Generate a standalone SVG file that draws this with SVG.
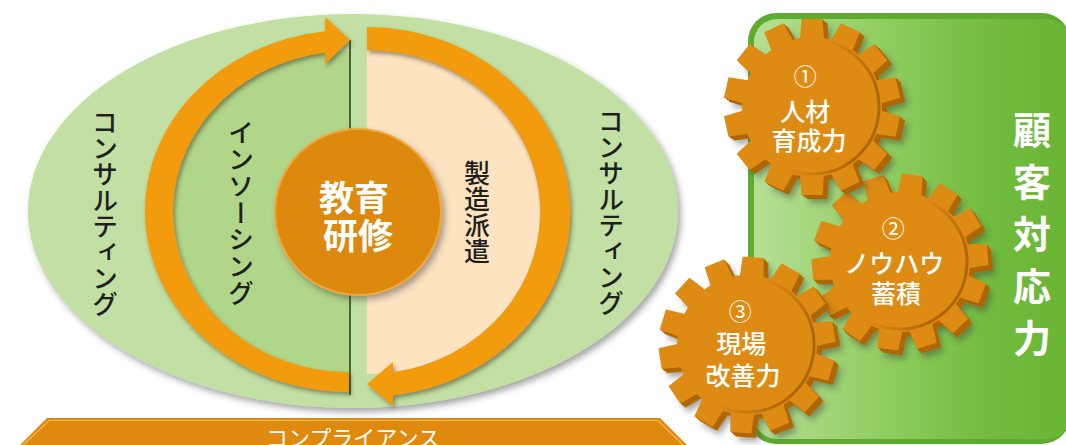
<svg xmlns="http://www.w3.org/2000/svg" width="1066" height="445" viewBox="0 0 1066 445">
  <defs>
    <style>
      .jp { font-family: "Noto Sans CJK JP", "Noto Sans", sans-serif; }
      .vert { writing-mode: vertical-rl; text-anchor: middle; font-size: 26px; fill: #1f1f1f; font-weight: 500; }
      .gearText { font-size: 25px; fill: #ffffff; text-anchor: middle; dominant-baseline: central; font-weight: 500; }
      .num { font-size: 23px; font-weight: 400; }
      .face { fill: #de8b13; }
      .side { fill: #ad6705; }
      .arrow { fill: #f29b0c; }
    </style>
    <filter id="shadow" x="-10%" y="-10%" width="130%" height="130%">
      <feDropShadow dx="3" dy="4" stdDeviation="3" flood-color="#3a3a3a" flood-opacity="0.45"/>
    </filter>
    <filter id="arrowShadow" x="-10%" y="-10%" width="130%" height="130%">
      <feDropShadow dx="2" dy="3" stdDeviation="2" flood-color="#3d3020" flood-opacity="0.5"/>
    </filter>
    <linearGradient id="panelFill" x1="0" y1="0" x2="1" y2="0">
      <stop offset="0" stop-color="#b6df95"/>
      <stop offset="0.45" stop-color="#8ccb5c"/>
      <stop offset="0.75" stop-color="#72bb3e"/>
      <stop offset="1" stop-color="#69b535"/>
    </linearGradient>
    <linearGradient id="ringShade" x1="0" y1="0" x2="1" y2="0.3">
      <stop offset="0" stop-color="#a8620a" stop-opacity="0"/>
      <stop offset="0.55" stop-color="#a8620a" stop-opacity="0"/>
      <stop offset="1" stop-color="#a8620a" stop-opacity="0.9"/>
    </linearGradient>
    <!-- one gear tooth pointing up, and a 14-tooth gear built from it -->
    <polygon id="tooth" points="-12.5,-60 -10.5,-88 10.5,-88 12.5,-60"/>
    <g id="gearShape">
      <circle r="70"/>
      <use href="#tooth"/>
      <use href="#tooth" transform="rotate(25.714)"/>
      <use href="#tooth" transform="rotate(51.429)"/>
      <use href="#tooth" transform="rotate(77.143)"/>
      <use href="#tooth" transform="rotate(102.857)"/>
      <use href="#tooth" transform="rotate(128.571)"/>
      <use href="#tooth" transform="rotate(154.286)"/>
      <use href="#tooth" transform="rotate(180)"/>
      <use href="#tooth" transform="rotate(205.714)"/>
      <use href="#tooth" transform="rotate(231.429)"/>
      <use href="#tooth" transform="rotate(257.143)"/>
      <use href="#tooth" transform="rotate(282.857)"/>
      <use href="#tooth" transform="rotate(308.571)"/>
      <use href="#tooth" transform="rotate(334.286)"/>
    </g>
  </defs>

  <rect width="1066" height="445" fill="#ffffff"/>

  <!-- outer consulting ellipse with its two inner halves -->
  <g id="ring">
    <ellipse cx="353" cy="211" rx="325" ry="197" fill="#c2e0a3" filter="url(#shadow)"/>
    <path d="M349,51 A176,160.5 0 0 0 349,372 Z" fill="#b0d68a"/>
    <path d="M367,50 A173,162 0 0 1 367,374 Z" fill="#fde3c0"/>
    <line x1="350" y1="40" x2="350" y2="395" stroke="#47613c" stroke-width="2"/>
  </g>

  <!-- circulating arrows -->
  <g id="connectors">
    <path class="arrow" filter="url(#arrowShadow)" d="M349,392 A204,181 0 0 1 325,31.25 L325,17 L350,40 L325,64 L325,52.5 A176,160.5 0 0 0 349,372 Z"/>
    <path class="arrow" filter="url(#arrowShadow)" d="M367,27 A203,185 0 0 1 393,395.5 L393,406 L367,384 L393,362 L393,372.2 A173,162 0 0 0 367,50 Z"/>
  </g>

  <g id="consulting-left">
    <text class="jp vert" x="105" y="213">コンサルティング</text>
  </g>
  <g id="insourcing">
    <text class="jp vert" x="241" y="213" font-size="25" letter-spacing="0.7">インソーシング</text>
  </g>
  <g id="dispatch">
    <text class="jp vert" x="477" y="212" font-weight="700">製造派遣</text>
  </g>
  <g id="consulting-right">
    <text class="jp vert" x="611" y="212">コンサルティング</text>
  </g>

  <g id="training">
    <circle cx="358" cy="212" r="83" fill="#dd890b" stroke="#f1a73a" stroke-width="2" filter="url(#shadow)"/>
    <text class="jp" font-size="35" font-weight="700" fill="#ffffff" text-anchor="middle" dominant-baseline="central">
      <tspan x="358" y="195">教育</tspan>
      <tspan x="358" y="233">研修</tspan>
    </text>
  </g>

  <!-- customer response panel -->
  <g id="panel">
    <rect x="748" y="13" width="322" height="431" rx="28" fill="#5fab2f"/>
    <rect x="754" y="19" width="316" height="420" rx="23" fill="url(#panelFill)"/>
    <text class="jp" x="1032" y="111" font-size="38" font-weight="700" fill="#ffffff" letter-spacing="14" style="writing-mode: vertical-rl;">顧客対応力</text>
  </g>

  <g id="gear2">
    <g transform="translate(900,262) rotate(8)">
      <use href="#gearShape" class="side" transform="translate(5,4)" filter="url(#shadow)"/>
      <use href="#gearShape" class="side" transform="translate(3,2.4)"/>
      <use href="#gearShape" class="side" transform="translate(1.5,1.2)"/>
      <use href="#gearShape" class="face"/>
      <circle r="67" fill="none" stroke="url(#ringShade)" stroke-width="3"/>
    </g>
    <text class="jp gearText">
      <tspan class="num" x="896" y="227">②</tspan>
      <tspan x="897" y="262">ノウハウ</tspan>
      <tspan x="896" y="292">蓄積</tspan>
    </text>
  </g>

  <g id="gear1">
    <g transform="translate(812,107)">
      <use href="#gearShape" class="side" transform="translate(5,4)" filter="url(#shadow)"/>
      <use href="#gearShape" class="side" transform="translate(3,2.4)"/>
      <use href="#gearShape" class="side" transform="translate(1.5,1.2)"/>
      <use href="#gearShape" class="face"/>
      <circle r="67" fill="none" stroke="url(#ringShade)" stroke-width="3"/>
    </g>
    <text class="jp gearText">
      <tspan class="num" x="808" y="75">①</tspan>
      <tspan x="808" y="110">人材</tspan>
      <tspan x="809" y="139">育成力</tspan>
    </text>
  </g>

  <g id="gear3">
    <g transform="translate(747,345) rotate(4)">
      <use href="#gearShape" class="side" transform="translate(5,4)" filter="url(#shadow)"/>
      <use href="#gearShape" class="side" transform="translate(3,2.4)"/>
      <use href="#gearShape" class="side" transform="translate(1.5,1.2)"/>
      <use href="#gearShape" class="face"/>
      <circle r="67" fill="none" stroke="url(#ringShade)" stroke-width="3"/>
    </g>
    <text class="jp gearText">
      <tspan class="num" x="743" y="310">③</tspan>
      <tspan x="744" y="342">現場</tspan>
      <tspan x="743" y="374">改善力</tspan>
    </text>
  </g>

  <!-- compliance base banner -->
  <g id="compliance">
    <polygon points="47,418 660,418 690,448 17,448" fill="#df8a0f"/>
    <polyline points="22,446 49,420.5 658,420.5 684,446" fill="none" stroke="#f6b95a" stroke-width="1.2"/>
    <text class="jp" x="353" y="446" font-size="22" fill="#ffffff" text-anchor="middle">コンプライアンス</text>
  </g>
</svg>
